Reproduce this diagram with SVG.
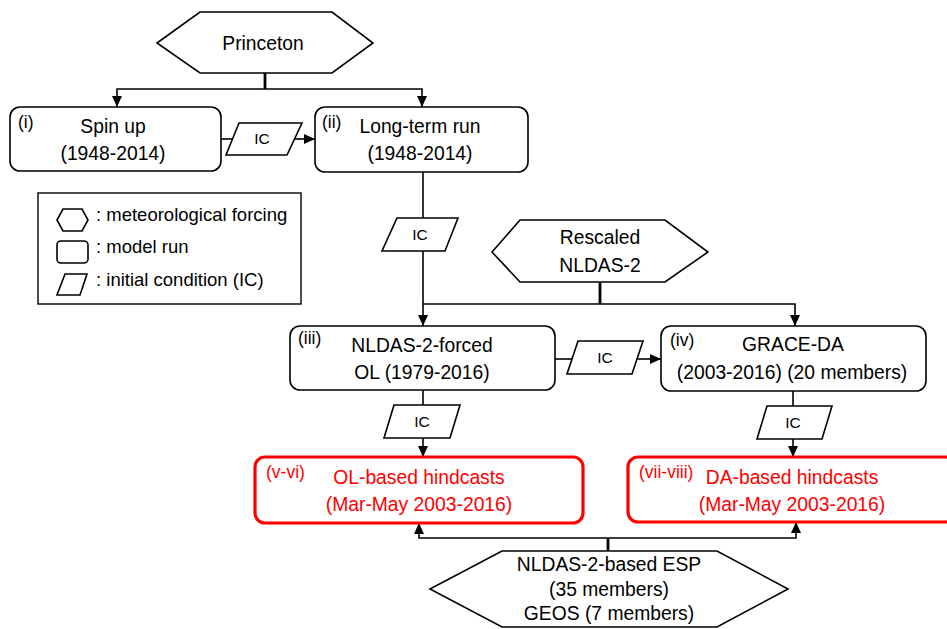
<svg xmlns="http://www.w3.org/2000/svg" width="947" height="629" viewBox="0 0 947 629">
<style>
text { font-family: "Liberation Sans", Arial, sans-serif; fill: #000; }
.t { font-size: 19.3px; text-anchor: middle; }
.s { font-size: 17.5px; }
.ic { font-size: 15.5px; text-anchor: middle; }
.lg { font-size: 18.5px; }
.red { fill: #ff0000; }
.shape { fill: #fff; stroke: #000; stroke-width: 1.6; }
.rbox { fill: #fff; stroke: #ff0000; stroke-width: 3.2; }
.c { fill: none; stroke: #000; stroke-width: 1.6; }
.stem { fill: none; stroke: #000; stroke-width: 2.8; }
</style>
<defs>
<marker id="ah" markerUnits="userSpaceOnUse" markerWidth="12" markerHeight="10" refX="11" refY="5" orient="auto">
<path d="M0,0 L11,5 L0,10 z" fill="#000"/>
</marker>
</defs>
<rect width="947" height="629" fill="#fff"/>

<g id="connectors">
<path class="stem" d="M265,73 V89"/>
<path class="c" d="M265,89 H117 V107" marker-end="url(#ah)"/>
<path class="c" d="M265,89 H422 V107" marker-end="url(#ah)"/>
<path class="c" d="M221,139 H233"/>
<path class="c" d="M294,139 H315" marker-end="url(#ah)"/>
<path class="c" d="M423,172 V218"/>
<path class="c" d="M423,251 V326" marker-end="url(#ah)"/>
<path class="stem" d="M600,282 V304"/>
<path class="c" d="M600,304 H423"/>
<path class="c" d="M600,304 H795 V326" marker-end="url(#ah)"/>
<path class="c" d="M555,359 H573"/>
<path class="c" d="M636,359 H661" marker-end="url(#ah)"/>
<path class="c" d="M423,390 V405"/>
<path class="c" d="M423,438 V457" marker-end="url(#ah)"/>
<path class="c" d="M793,391 V406"/>
<path class="c" d="M793,439 V457" marker-end="url(#ah)"/>
<path class="stem" d="M608,551 V538"/>
<path class="c" d="M608,538 H419 V523" marker-end="url(#ah)"/>
<path class="c" d="M608,538 H796 V522" marker-end="url(#ah)"/>
</g>

<g id="princeton">
<polygon class="shape" points="157,43 200,12 332,12 373,43 332,73 200,73"/>
<text class="t" x="263" y="50">Princeton</text>
</g>

<g id="spinup">
<rect class="shape" x="10" y="107" width="211" height="64" rx="10"/>
<text class="s" x="18" y="128">(i)</text>
<text class="t" x="113" y="133">Spin up</text>
<text class="t" x="113" y="160">(1948-2014)</text>
</g>

<g id="ic1">
<polygon class="shape" points="239,123 302,123 287,155 226,155"/>
<text class="ic" x="262" y="144">IC</text>
</g>

<g id="longterm">
<rect class="shape" x="315" y="107" width="213" height="65" rx="10"/>
<text class="s" x="322" y="128">(ii)</text>
<text class="t" x="420" y="133">Long-term run</text>
<text class="t" x="420" y="160">(1948-2014)</text>
</g>

<g id="legend">
<rect x="38" y="193" width="263" height="111" fill="#fff" stroke="#000" stroke-width="1.4"/>
<polygon class="shape" points="57,220 63,209 82,209 88,220 82,231 63,231"/>
<text class="lg" x="96" y="221">: meteorological forcing</text>
<rect class="shape" x="57" y="241" width="31" height="22" rx="4"/>
<text class="lg" x="96" y="253">: model run</text>
<polygon class="shape" points="65,274 87,274 80,295 57,295"/>
<text class="lg" x="96" y="286">: initial condition (IC)</text>
</g>

<g id="ic2">
<polygon class="shape" points="397,218 458,218 445,251 382,251"/>
<text class="ic" x="420" y="240">IC</text>
</g>

<g id="rescaled">
<polygon class="shape" points="492,252 520,220 665,220 708,252 665,282 520,282"/>
<text class="t" x="600" y="244">Rescaled</text>
<text class="t" x="600" y="272">NLDAS-2</text>
</g>

<g id="nldasol">
<rect class="shape" x="290" y="326" width="265" height="64" rx="10"/>
<text class="s" x="298" y="344">(iii)</text>
<text class="t" x="422" y="352">NLDAS-2-forced</text>
<text class="t" x="422" y="379">OL (1979-2016)</text>
</g>

<g id="ic3">
<polygon class="shape" points="578,341 643,341 632,374 567,374"/>
<text class="ic" x="605" y="363">IC</text>
</g>

<g id="graceda">
<rect class="shape" x="661" y="326" width="265" height="65" rx="10"/>
<text class="s" x="670" y="346">(iv)</text>
<text class="t" x="793" y="351">GRACE-DA</text>
<text class="t" x="792" y="379">(2003-2016) (20 members)</text>
</g>

<g id="ic4">
<polygon class="shape" points="394,405 460,405 450,438 384,438"/>
<text class="ic" x="422" y="427">IC</text>
</g>

<g id="ic5">
<polygon class="shape" points="767,406 832,406 822,439 757,439"/>
<text class="ic" x="793" y="428">IC</text>
</g>

<g id="olhind">
<rect class="rbox" x="255" y="457" width="328" height="66" rx="10"/>
<text class="s red" x="266" y="478">(v-vi)</text>
<text class="t red" x="419" y="484">OL-based hindcasts</text>
<text class="t red" x="419" y="511">(Mar-May 2003-2016)</text>
</g>

<g id="dahind">
<rect class="rbox" x="628" y="457" width="328" height="65" rx="10"/>
<text class="s red" x="639" y="478">(vii-viii)</text>
<text class="t red" x="792" y="484">DA-based hindcasts</text>
<text class="t red" x="792" y="511">(Mar-May 2003-2016)</text>
</g>

<g id="esp">
<polygon class="shape" points="430,589 502,551 717,551 788,589 717,627 502,627"/>
<text class="t" x="609" y="571">NLDAS-2-based ESP</text>
<text class="t" x="609" y="596">(35 members)</text>
<text class="t" x="609" y="620">GEOS (7 members)</text>
</g>
</svg>
